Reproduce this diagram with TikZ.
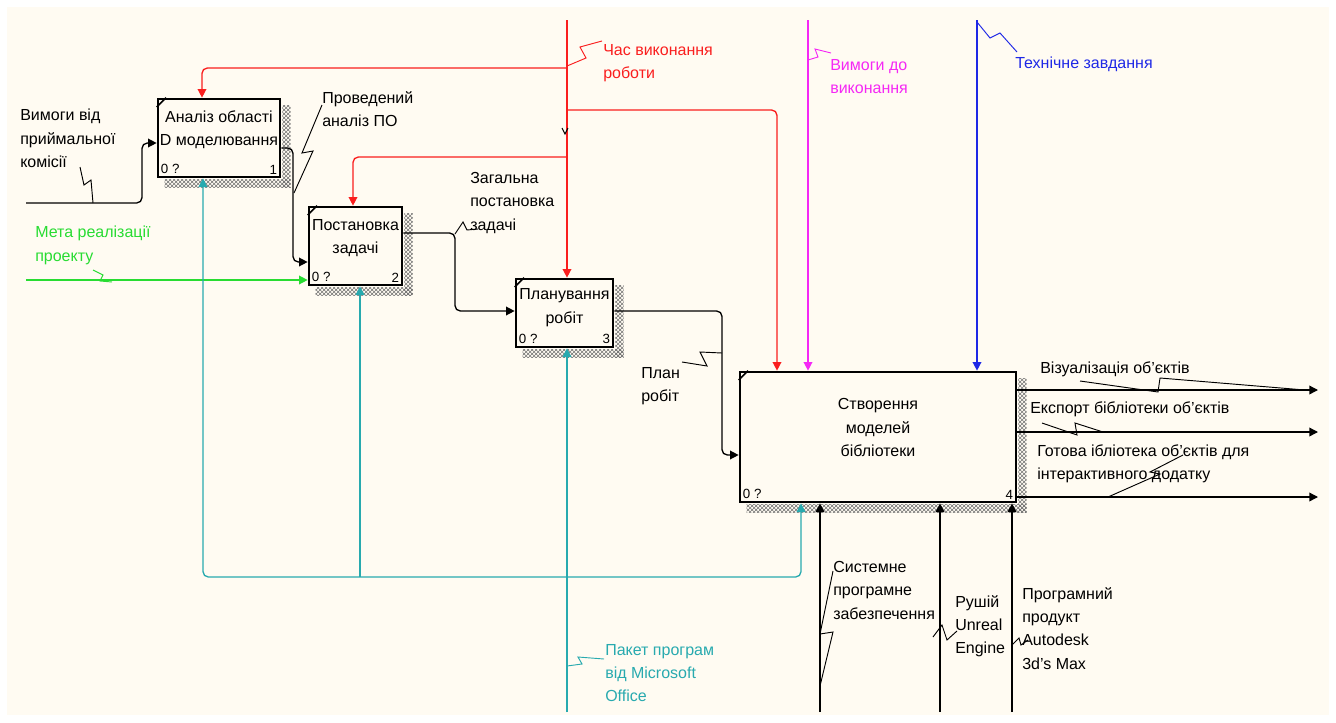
\documentclass[tikz,border=0pt]{standalone}
\usepackage{fontspec}
\setmainfont{Liberation Sans}
\usetikzlibrary{arrows.meta,patterns}
\definecolor{bgcream}{RGB}{255,251,242}
\definecolor{ctrlred}{RGB}{250,30,30}
\definecolor{ctrlpink}{RGB}{245,40,245}
\definecolor{ctrlblue}{RGB}{30,40,230}
\definecolor{mechteal}{RGB}{40,170,175}
\definecolor{ingreen}{RGB}{40,220,50}
\tikzset{
  idefbox/.style={draw, line width=2pt, fill=bgcream, inner sep=0pt},
  boxtext/.style={align=center, inner sep=0pt, font=\fontsize{12}{17.5}\selectfont},
  boxnum/.style={inner sep=3pt, font=\fontsize{10}{12}\selectfont},
  lbl/.style={align=left, anchor=north west, inner sep=0pt, font=\fontsize{12}{17.5}\selectfont},
  arr/.style={line width=1pt, rounded corners=4pt, -{Triangle[length=6.5pt,width=6.5pt]}},
  bolt/.style={line width=0.7pt},
  shade/.style={pattern=crosshatch, pattern color=black!55}
}
\begin{document}
\begin{tikzpicture}[x=0.75pt, y=-0.75pt]
  \useasboundingbox (0,0) rectangle (1336,722);
  \fill[bgcream] (7,7) rectangle (1329,715);

  % blocks
  \node[idefbox, minimum width=91.5pt, minimum height=58.5pt] (b1) at (219,138) {};
  \node[idefbox, minimum width=69.75pt, minimum height=58.5pt] (b2) at (355.5,246) {};
  \node[idefbox, minimum width=72.75pt, minimum height=51pt] (b3) at (564.5,313) {};
  \node[idefbox, minimum width=207pt, minimum height=97.5pt] (b4) at (878,437) {};
  \foreach \b/\n in {b1/1,b2/2,b3/3,b4/4} {
    \fill[shade] ([xshift=0.8pt,yshift=-6pt]\b.north east) rectangle ([xshift=7pt,yshift=-7pt]\b.south east);
    \fill[shade] ([xshift=6pt,yshift=-0.8pt]\b.south west) rectangle ([xshift=7pt,yshift=-7pt]\b.south east);
    \draw[line width=1.2pt] ([yshift=-7pt]\b.north west) -- ([xshift=7pt]\b.north west);
    \node[boxnum, anchor=south west] at (\b.south west) {0 ?};
    \node[boxnum, anchor=south east] at (\b.south east) {\n};
  }
  \node[boxtext] (t1) at ([yshift=6pt]b1.center) {Аналіз області\\D моделювання};
  \node[boxtext] (t2) at ([yshift=6pt]b2.center) {Постановка\\задачі};
  \node[boxtext] (t3) at ([yshift=4pt]b3.center) {Планування\\робіт};
  \node[boxtext] (t4) at ([yshift=7pt]b4.center) {Створення\\моделей\\бібліотеки};

  % inputs
  \coordinate (inReq) at (26,203);
  \coordinate (inGoal) at (26,280);
  \draw[arr] (inReq) -- (142,203) -- (142,143) -- (b1.west |- 0,143);
  \draw[arr, ingreen] (inGoal) -- (b2.west |- inGoal);
  \draw[arr] (b1.east |- 0,148) -- (293,148) -- (293,262) -- (b2.west |- 0,262);
  \draw[arr] (b2.east |- 0,233) -- (455,233) -- (455,311) -- (b3.west |- 0,311);
  \draw[arr] (b3.east |- 0,311) -- (722,311) -- (722,455) -- (b4.west |- 0,455);

  % controls
  \coordinate (ctTime) at (567,20);
  \coordinate (ctPerf) at (808,20);
  \coordinate (ctSpec) at (977,20);
  \draw[arr, ctrlred] (ctTime) -- (ctTime |- b3.north);
  \draw[arr, ctrlred] (ctTime |- 0,68) -- (202,68) -- (202,0 |- b1.north);
  \draw[arr, ctrlred] (ctTime |- 0,110) -- (777,110) -- (777,0 |- b4.north);
  \draw[arr, ctrlred] (ctTime |- 0,157) -- (353,157) -- (353,0 |- b2.north);
  \draw[line width=0.8pt] (562,128) -- (565,134) -- (568,128);
  \draw[arr, ctrlpink] (ctPerf) -- (ctPerf |- b4.north);
  \draw[arr, ctrlblue] (ctSpec) -- (ctSpec |- b4.north);

  % mechanisms
  \coordinate (mcOffice) at (567,712);
  \coordinate (jOffice) at (567,577);
  \coordinate (jB2) at (360,577);
  \coordinate (mcSys) at (820,712);
  \coordinate (mcEng) at (940,712);
  \coordinate (mcMax) at (1012,712);
  \draw[arr, mechteal] (mcOffice) -- (mcOffice |- b3.south);
  \draw[arr, mechteal] (jOffice) -- (203,577) -- (203,0 |- b1.south);
  \draw[arr, mechteal] (jOffice) -- (801,577) -- (801,0 |- b4.south);
  \draw[arr, mechteal] (jB2) -- (jB2 |- b2.south);
  \draw[arr] (mcSys) -- (mcSys |- b4.south);
  \draw[arr] (mcEng) -- (mcEng |- b4.south);
  \draw[arr] (mcMax) -- (mcMax |- b4.south);

  % outputs
  \coordinate (outVis) at (1318,390);
  \coordinate (outExp) at (1318,432);
  \coordinate (outLib) at (1318,497);
  \draw[arr] (b4.east |- outVis) -- (outVis);
  \draw[arr] (b4.east |- outExp) -- (outExp);
  \draw[arr] (b4.east |- outLib) -- (outLib);

  % labels
  \node[lbl] (lReq) at (20,109) {Вимоги від\\приймальної\\комісії};
  \node[lbl, ingreen] (lGoal) at (35,226) {Мета реалізації\\проекту};
  \node[lbl] (lDone) at (322,91) {Проведений\\аналіз ПО};
  \node[lbl] (lTask) at (470,172) {Загальна\\постановка\\задачі};
  \node[lbl, ctrlred] (lTime) at (603,44) {Час виконання\\роботи};
  \node[lbl, ctrlpink] (lPerf) at (830,59) {Вимоги до\\виконання};
  \node[lbl, ctrlblue] (lSpec) at (1015,57) {Технічне завдання};
  \node[lbl] (lPlan) at (641,367) {План\\робіт};
  \node[lbl] (lVis) at (1040,361) {Візуалізація об'єктів};
  \node[lbl] (lExp) at (1030,401) {Експорт бібліотеки об'єктів};
  \node[lbl] (lLib) at (1037,444) {Готова ібліотека об'єктів для\\інтерактивного додатку};
  \node[lbl] (lSys) at (833,561) {Системне\\програмне\\забезпечення};
  \node[lbl] (lEng) at (955,595) {Рушій\\Unreal\\Engine};
  \node[lbl] (lMax) at (1022,587) {Програмний\\продукт\\Autodesk\\3d's Max};
  \node[lbl, mechteal] (lOff) at (605,644) {Пакет програм\\від Microsoft\\Office};

  % label leaders
  \draw[bolt] (80,167) -- (84,185) -- (91,180) -- (93,203);
  \draw[bolt] (322,105) -- (302,153) -- (313,151) -- (294,193);
  \draw[bolt] (455,234) -- (463,222) -- (467,230) -- (478,229);
  \draw[bolt] (682,362) -- (707,366) -- (700,352) -- (722,353);
  \draw[bolt] (1080,381) -- (1158,392) -- (1160,378) -- (1305,390);
  \draw[bolt] (1042,423) -- (1077,435) -- (1075,423) -- (1103,432);
  \draw[bolt] (1183,455) -- (1150,472) -- (1160,474) -- (1108,497);
  \draw[bolt] (833,571) -- (820,634) -- (833,632) -- (820,686);
  \draw[bolt] (933,637) -- (942,625) -- (947,640) -- (957,631);
  \draw[bolt] (1012,645) -- (1019,638) -- (1021,645) -- (1028,640);
  \draw[bolt, ctrlred] (567,66) -- (586,58) -- (580,47) -- (602,41);
  \draw[bolt, ctrlpink] (808,60) -- (818,57) -- (815,49) -- (831,53);
  \draw[bolt, ctrlblue] (977,22) -- (990,38) -- (1000,33) -- (1017,52);
  \draw[bolt, ingreen] (93,270) -- (103,275) -- (100,281) -- (112,282);
  \draw[bolt, mechteal] (567,666) -- (582,664) -- (578,657) -- (604,659);
\end{tikzpicture}
\end{document}
